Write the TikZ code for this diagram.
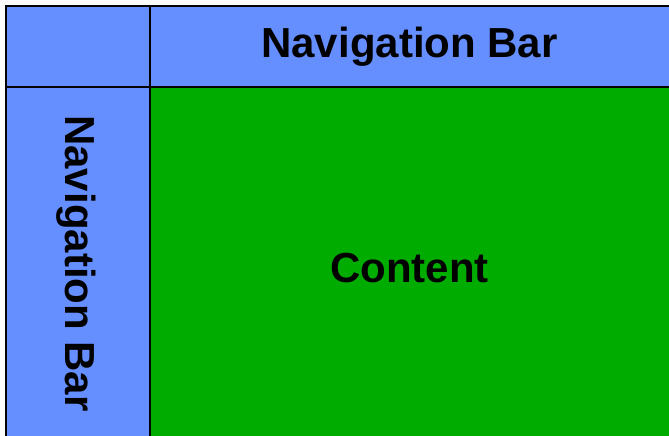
\documentclass[tikz,border=0pt]{standalone}
\usepackage{fontspec}
\setmainfont{Liberation Sans}
\definecolor{navblue}{RGB}{101,142,255}
\definecolor{contgreen}{RGB}{0,172,0}
\begin{document}
\begin{tikzpicture}[x=1pt,y=-1pt,
  lbl/.style={font=\fontsize{42}{48}\selectfont\bfseries, inner sep=0pt, text=black},
  cellline/.style={draw=black, line width=2.8pt}]
\useasboundingbox (0,0) rectangle (669,436);
\clip (0,0) rectangle (669,436);
\fill[navblue] (6,6) rectangle (700,87);
\fill[navblue] (6,87) rectangle (150,460);
\fill[contgreen] (150,87) rectangle (700,460);
\draw[cellline] (700,6) -- (6,6) -- (6,460);
\draw[cellline] (150,6) -- (150,460);
\draw[cellline] (6,87) -- (700,87);
\node[lbl, anchor=base] (topbar) at (409.5,57.5) {Navigation Bar};
\node[lbl, anchor=base, rotate=-90] (sidebar) at (65,263.5) {Navigation Bar};
\node[lbl, anchor=base] (content) at (409.5,282) {Content};
\end{tikzpicture}
\end{document}
